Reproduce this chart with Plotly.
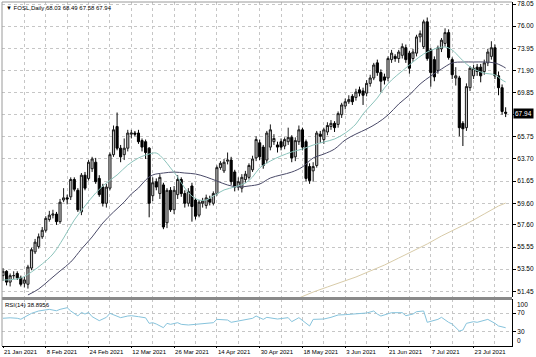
import plotly.graph_objects as go

# ---------------- data ----------------
opens = [52.9, 53.3, 52.3, 52.9, 53.1, 52.7, 52.2, 52.1, 53.6, 55.1,
         55.6, 56.5, 57.1, 58.1, 58.5, 58.6, 57.9, 59.9, 60.1, 60.2,
         61.8, 60.8, 58.8, 62.2, 61.9, 62.8, 63.4, 61.9, 61.1, 59.6,
         61.0, 64.1, 66.7, 64.7, 64.1, 64.7, 66.0, 66.1, 66.1, 65.4,
         65.3, 64.7, 60.3, 61.6, 60.5, 61.3, 57.8, 60.8, 59.0, 60.4,
         61.8, 60.5, 59.6, 61.2, 59.9, 58.5, 59.6, 59.4, 60.0, 59.6,
         60.5, 62.9, 62.6, 63.5, 63.6, 62.5, 61.1, 61.0, 61.8, 62.0,
         62.7, 63.8, 65.2, 64.8, 63.6, 64.8, 65.3, 65.0, 65.3, 64.9,
         65.3, 65.7, 63.9, 65.3, 66.4, 65.3, 63.0, 62.6, 63.1, 66.0,
         65.5, 66.2, 66.7, 67.0, 66.9, 67.8, 68.6, 69.0, 69.5, 69.4,
         70.1, 70.0, 69.8, 70.7, 71.2, 72.6, 71.7, 71.3, 71.2, 72.9,
         73.2, 73.0, 73.3, 74.0, 73.5, 73.0, 73.5, 75.0, 74.1, 76.4,
         73.8, 72.9, 71.9, 73.9, 74.4, 75.4, 72.9, 71.2, 71.2, 67.0,
         66.6, 70.3, 71.4, 72.2, 72.2, 71.8, 72.6, 73.2, 74.0, 71.4,
         70.3, 68.03]
highs = [53.6, 53.4, 53.1, 53.3, 53.3, 52.9, 52.8, 53.9, 55.5, 56.3,
         56.8, 57.4, 58.4, 58.9, 59.0, 58.8, 60.0, 61.0, 60.4, 62.0,
         62.0, 61.0, 62.4, 62.5, 63.6, 63.9, 63.8, 62.2, 61.4, 61.4,
         64.3, 66.8, 68.0, 65.0, 65.6, 66.4, 66.4, 66.3, 66.4, 65.6,
         65.5, 64.8, 62.0, 61.9, 62.3, 61.5, 61.0, 61.1, 61.2, 62.2,
         62.0, 60.8, 61.0, 61.5, 60.1, 59.9, 60.1, 60.4, 60.3, 60.7,
         63.1, 63.5, 63.7, 64.3, 63.9, 62.7, 62.0, 62.3, 62.6, 63.3,
         64.0, 65.8, 65.5, 65.0, 66.3, 66.9, 66.0, 65.3, 65.6, 65.7,
         66.6, 65.9, 65.7, 66.8, 66.6, 65.5, 63.3, 63.4, 66.3, 66.3,
         66.6, 67.1, 67.3, 67.2, 68.1, 68.9, 69.3, 69.6, 69.7, 70.2,
         70.4, 70.3, 71.0, 71.5, 72.6, 72.9, 72.0, 71.6, 73.2, 73.8,
         73.4, 73.8, 74.4, 74.3, 73.7, 73.9, 75.2, 75.6, 76.6, 76.8,
         74.0, 73.2, 74.2, 74.9, 75.8, 75.7, 73.1, 72.2, 71.4, 67.2,
         70.7, 72.3, 72.4, 72.5, 72.5, 72.9, 73.9, 74.6, 74.3, 71.8,
         70.6, 68.49]
lows = [52.4, 52.0, 51.9, 52.6, 52.5, 51.9, 51.8, 51.7, 53.4, 54.9,
        55.4, 56.3, 56.9, 57.9, 58.2, 57.6, 57.7, 59.7, 59.5, 59.9,
        60.7, 58.8, 58.5, 60.8, 61.7, 62.5, 61.4, 60.2, 59.3, 59.2,
        60.8, 63.9, 64.5, 63.4, 63.6, 64.4, 65.6, 65.8, 65.1, 64.4,
        63.7, 58.3, 59.8, 60.8, 60.0, 57.2, 57.3, 58.8, 58.6, 60.0,
        60.2, 59.2, 59.3, 57.9, 58.1, 58.3, 59.2, 59.1, 59.4, 59.4,
        60.3, 62.7, 62.4, 63.2, 61.3, 60.7, 60.8, 60.6, 61.5, 61.8,
        62.5, 63.5, 63.6, 62.8, 63.3, 64.5, 65.0, 64.3, 64.5, 64.6,
        65.0, 63.4, 63.5, 65.0, 64.5, 61.6, 61.4, 61.6, 62.9, 65.2,
        65.1, 65.9, 66.4, 66.2, 66.6, 67.5, 68.3, 68.8, 68.7, 69.1,
        69.5, 68.7, 69.5, 70.4, 71.0, 71.4, 69.9, 70.6, 70.9, 72.6,
        72.7, 72.6, 73.0, 72.6, 71.6, 72.7, 73.2, 74.5, 73.9, 72.8,
        70.4, 70.9, 71.6, 73.6, 74.1, 72.9, 71.1, 70.5, 65.8, 64.9,
        66.3, 70.0, 71.1, 71.4, 70.8, 71.5, 72.3, 72.9, 71.1, 69.6,
        67.8, 67.58]
closes = [53.3, 52.3, 52.9, 52.9, 52.7, 52.1, 52.5, 53.7, 55.3, 56.0,
          56.5, 57.1, 58.2, 58.5, 58.6, 57.9, 59.7, 60.1, 60.0, 61.8,
          60.9, 59.0, 62.2, 61.0, 63.4, 63.7, 61.6, 60.4, 59.6, 61.1,
          64.1, 66.4, 64.7, 63.9, 64.7, 66.1, 66.1, 66.0, 65.3, 64.8,
          64.3, 59.6, 61.5, 61.1, 62.0, 57.4, 60.8, 59.0, 60.8, 61.8,
          60.5, 59.6, 60.7, 59.3, 58.4, 59.7, 59.8, 60.1, 59.7, 60.5,
          62.9, 63.3, 63.4, 63.6, 61.6, 61.1, 61.6, 62.0, 62.3, 63.1,
          63.7, 65.5, 63.9, 63.1, 66.1, 66.4, 65.6, 64.8, 64.8, 65.5,
          65.7, 63.8, 65.4, 66.4, 64.8, 61.9, 61.7, 63.0, 66.1, 65.8,
          66.4, 66.8, 67.0, 66.6, 67.9, 68.7, 69.0, 69.2, 69.0, 69.9,
          69.8, 69.6, 70.7, 71.2, 72.4, 71.7, 70.9, 71.0, 73.0, 73.5,
          73.0, 73.6, 74.1, 72.9, 72.1, 73.6, 75.0, 75.3, 76.4, 73.0,
          71.7, 71.3, 74.0, 74.7, 75.4, 73.1, 71.5, 71.4, 66.6, 66.5,
          70.4, 72.1, 72.1, 71.8, 71.4, 72.6, 73.6, 74.0, 71.4, 70.3,
          68.1, 67.94]

# moving averages, read at sampled bars
ma_fast_bars = [0, 5, 8, 11, 14, 17, 20, 23, 26, 29, 32, 35, 38, 41, 43, 45, 47, 49,
                51, 53, 55, 57, 59, 62, 65, 68, 70, 72, 75, 78, 81, 84, 87, 90, 93,
                96, 99, 101, 103, 105, 107, 109, 112, 115, 118, 121, 124, 126, 128,
                130, 132, 135, 138, 140, 141]
ma_fast = [52.49, 52.68, 53.24, 53.98, 54.90, 56.38, 58.05, 59.35, 60.55, 61.48,
           62.22, 63.14, 63.79, 64.16, 64.25, 63.70, 62.87, 62.03, 61.01, 60.27,
           59.90, 59.90, 60.27, 60.83, 61.11, 61.48, 62.03, 62.87, 63.51, 63.98,
           64.35, 64.62, 64.99, 65.27, 65.55, 66.10, 66.94, 67.87, 68.61, 69.35,
           70.27, 71.01, 71.85, 72.68, 73.42, 73.88, 74.07, 73.79, 73.14, 72.49,
           72.03, 71.66, 71.48, 71.01, 70.83]
ma_slow_bars = [7, 10, 13, 16, 19, 22, 25, 28, 31, 34, 36, 38, 40, 42, 45, 48, 51,
                54, 57, 60, 63, 66, 69, 72, 75, 78, 81, 84, 87, 90, 93, 96, 99,
                102, 105, 108, 111, 114, 117, 120, 123, 126, 129, 132, 135, 138,
                140, 141]
ma_slow = [51.11, 51.66, 52.49, 53.33, 54.16, 55.36, 56.48, 57.77, 58.79, 59.72,
           60.46, 61.01, 61.75, 62.22, 62.40, 62.49, 62.40, 62.31, 62.03, 61.66,
           61.29, 61.11, 61.20, 61.38, 61.94, 62.22, 62.49, 62.96, 63.79, 64.16,
           64.62, 65.46, 66.01, 66.47, 67.03, 67.77, 68.79, 69.62, 70.64, 71.38,
           72.03, 72.59, 72.68, 72.68, 72.68, 72.59, 72.31, 72.12]
ma_long_bars = [83, 87, 91, 95, 99, 103, 107, 111, 115, 119, 123, 127, 131, 135, 139, 141]
ma_long = [50.83, 51.38, 51.85, 52.31, 52.77, 53.33, 53.88, 54.53, 55.18, 55.83,
           56.57, 57.22, 57.87, 58.61, 59.35, 59.62]

# RSI(14), read at sampled bars
rsi_bars = [0, 2, 4, 5, 8, 10, 13, 15, 16, 18, 19, 21, 22, 23, 24, 25, 27, 29, 30,
            31, 33, 35, 36, 38, 39, 40, 41, 42, 43, 45, 46, 47, 49, 50, 52, 54, 57,
            59, 60, 63, 64, 67, 70, 71, 73, 74, 77, 80, 81, 83, 84, 85, 86, 87, 90,
            92, 94, 96, 99, 102, 104, 105, 106, 108, 109, 112, 113, 115, 116, 118,
            119, 122, 123, 125, 126, 128, 129, 130, 132, 133, 135, 136, 138, 139, 141]
rsi_vals = [59, 60, 59, 57, 69.5, 74.5, 78, 75, 78, 81.5, 74.5, 64, 71.6, 68, 71.6,
            62.4, 53.9, 61, 69.5, 66, 60.3, 63.8, 64.5, 62.4, 61, 60, 48.2, 49.6,
            46.8, 39, 48.2, 46.1, 49.6, 46.1, 44.7, 46.1, 48.2, 49.6, 56.7, 55.3,
            50.4, 53.9, 58.9, 63.8, 56.7, 61, 57.4, 60.3, 51.8, 60.3, 53.9, 48,
            42.6, 56.7, 57.4, 61, 66, 66.7, 68, 70.2, 74.5, 68, 63.8, 69.5, 70.9,
            70.9, 64.5, 68, 73, 74.5, 50.4, 56.7, 61, 50.4, 46.8, 31.9, 34, 48.2,
            51.8, 50.4, 53.9, 56.7, 48.2, 42.6, 38.8956]

tick_labels = ["21 Jan 2021", "8 Feb 2021", "24 Feb 2021", "12 Mar 2021", "26 Mar 2021",
               "14 Apr 2021", "30 Apr 2021", "18 May 2021", "3 Jun 2021", "21 Jun 2021",
               "7 Jul 2021", "23 Jul 2021"]
tick_bars = [0, 12, 24, 36, 48, 60, 72, 84, 96, 108, 120, 132]
grid_bars = [6, 18, 30, 42, 54, 66, 78, 90, 102, 114, 126, 138]

price_ticks = [78.05, 76.00, 73.95, 71.90, 69.85, 67.80, 65.75, 63.70, 61.65, 59.60,
               57.60, 55.55, 53.50, 51.45]
price_labels = ["78.05", "76.00", "73.95", "71.90", "69.85", "", "65.75", "63.70",
                "61.65", "59.60", "57.60", "55.55", "53.50", "51.45"]

symbol = "FOSL,Daily"
last_ohlc = "68.03 68.49 67.58 67.94"
last_price = 67.94
rsi_last = "38.8956"

# ---------------- figure ----------------
FONT = "Liberation Sans"
GRID = "#c6c6c6"
bars = list(range(len(closes)))

fig = go.Figure()
fig.add_trace(go.Candlestick(
    x=bars, open=opens, high=highs, low=lows, close=closes,
    increasing=dict(line=dict(color="#1a1a1a", width=1), fillcolor="#c8c8c8"),
    decreasing=dict(line=dict(color="#000000", width=1), fillcolor="#000000"),
    whiskerwidth=0, hoverinfo="skip", xaxis="x", yaxis="y", showlegend=False))
fig.add_trace(go.Scatter(x=ma_long_bars, y=ma_long, mode="lines",
                         line=dict(color="#d8cba8", width=1), xaxis="x", yaxis="y",
                         showlegend=False, hoverinfo="skip"))
fig.add_trace(go.Scatter(x=ma_slow_bars, y=ma_slow, mode="lines",
                         line=dict(color="#4a4a68", width=1, shape="spline"), xaxis="x", yaxis="y",
                         showlegend=False, hoverinfo="skip"))
fig.add_trace(go.Scatter(x=ma_fast_bars, y=ma_fast, mode="lines",
                         line=dict(color="#8cc4bc", width=1, shape="spline"), xaxis="x", yaxis="y",
                         showlegend=False, hoverinfo="skip"))
fig.add_trace(go.Scatter(x=rsi_bars, y=rsi_vals, mode="lines",
                         line=dict(color="#86c3dc", width=1), xaxis="x2", yaxis="y2",
                         showlegend=False, hoverinfo="skip"))

xr = [-0.28, 142.78]
tickfont = dict(family=FONT, size=6.5, color="#000000")
datefont = dict(family=FONT, size=6, color="#000000")
smallfont = dict(family=FONT, size=6, color="#000000")

fig.update_layout(
    width=536, height=357,
    margin=dict(l=2, r=24, t=2, b=11),
    paper_bgcolor="#ffffff", plot_bgcolor="#ffffff",
    showlegend=False,
    boxgap=0.15,
    xaxis=dict(domain=[0, 1], range=xr, anchor="y", rangeslider=dict(visible=False),
               tickmode="array", tickvals=tick_bars, showticklabels=False, ticks="",
               showgrid=True, gridcolor=GRID, griddash="dot", gridwidth=1,
               minor=dict(tickmode="array", tickvals=grid_bars, showgrid=True,
                          gridcolor=GRID, griddash="dot", gridwidth=1, ticks=""),
               zeroline=False, showline=False, fixedrange=True),
    xaxis2=dict(domain=[0, 1], range=xr, anchor="y2", matches="x",
                tickmode="array", tickvals=tick_bars, ticktext=tick_labels,
                ticklabelposition="outside right", tickangle=0, ticks="outside", ticklen=1,
                tickcolor="#000000", tickfont=datefont,
                showgrid=True, gridcolor=GRID, griddash="dot", gridwidth=1,
                minor=dict(tickmode="array", tickvals=grid_bars, showgrid=True,
                           gridcolor=GRID, griddash="dot", gridwidth=1, ticks=""),
                zeroline=False, showline=True, linecolor="#000000", linewidth=1,
                automargin=False, fixedrange=True),
    yaxis=dict(domain=[0.1424, 1], range=[50.92, 78.235], anchor="x", side="right",
               tickmode="array", tickvals=price_ticks, ticktext=price_labels,
               ticks="outside", ticklen=3, tickcolor="#000000", tickfont=tickfont,
               showgrid=True, gridcolor=GRID, griddash="dot", gridwidth=1,
               zeroline=False, showline=True, linecolor="#000000", linewidth=1,
               automargin=False, fixedrange=True),
    yaxis2=dict(domain=[0, 0.1366], range=[0, 100], anchor="x2", side="right",
                tickmode="array", tickvals=[30, 70], ticktext=["30", "70"],
                ticks="outside", ticklen=3, tickcolor="#000000", tickfont=tickfont,
                showgrid=True, gridcolor=GRID, griddash="dot", gridwidth=1,
                zeroline=False, showline=True, linecolor="#000000", linewidth=1,
                automargin=False, fixedrange=True),
    shapes=[
        dict(type="rect", xref="paper", yref="paper", x0=0, x1=1, y0=0.1337, y1=0.1424,
             fillcolor="#8a8a8a", line=dict(width=0), layer="above"),
        dict(type="line", xref="paper", yref="paper", x0=0, x1=0, y0=0, y1=1,
             line=dict(color="#9a9a9a", width=1)),
        dict(type="line", xref="paper", yref="paper", x0=0, x1=1, y0=1, y1=1,
             line=dict(color="#9a9a9a", width=1)),
    ],
    annotations=[
        dict(xref="paper", yref="paper", x=0, y=1, xanchor="left", yanchor="top",
             xshift=2, yshift=-1, showarrow=False,
             text="\u25bc " + symbol + " " + last_ohlc, font=smallfont),
        dict(xref="paper", yref="paper", x=0, y=0.1366, xanchor="left", yanchor="top",
             xshift=1, yshift=-1, showarrow=False, text="RSI(14) " + rsi_last,
             font=smallfont),
        dict(xref="paper", yref="y", x=1, y=last_price, xanchor="left", yanchor="middle",
             xshift=1, showarrow=False, text=f"{last_price:.2f}", bgcolor="#000000",
             borderpad=1, font=dict(family=FONT, size=6.5, color="#ffffff")),
        dict(xref="paper", yref="y2", x=1, y=100, xanchor="left", yanchor="top",
             xshift=3, showarrow=False, text="100", font=tickfont),
        dict(xref="paper", yref="y2", x=1, y=0, xanchor="left", yanchor="bottom",
             xshift=3, showarrow=False, text="0", font=tickfont),
    ],
)

fig.write_html("out.html", config={"displayModeBar": False},
               post_script="document.body.style.margin='0';document.body.style.overflow='hidden';")
